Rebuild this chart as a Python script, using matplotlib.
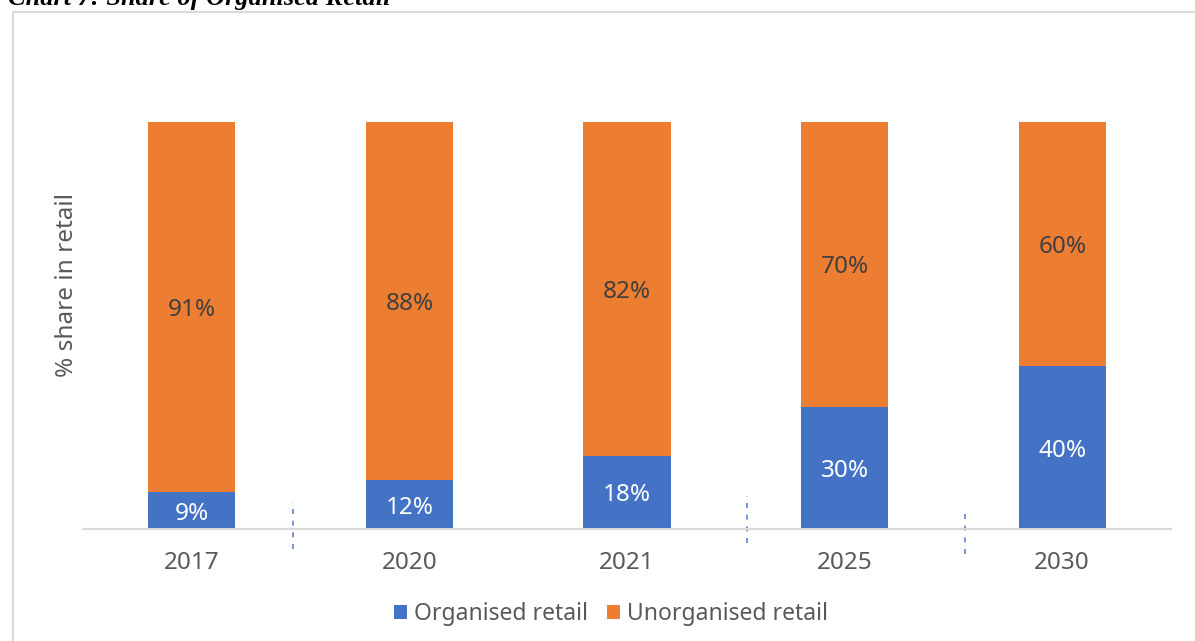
import numpy as np
import matplotlib.pyplot as plt
from matplotlib.patches import Rectangle

# Dados do gráfico
years = ['2017', '2020', '2021', '2025', '2030']
organised = [9, 12, 18, 30, 40]
unorganised = [91, 88, 82, 70, 60]

blue = '#4472C4'
orange = '#ED7D31'

plt.rcParams['font.family'] = ['Noto Sans', 'DejaVu Sans']

fig = plt.figure(figsize=(11.95, 6.41), dpi=100)
ax = fig.add_axes([83/1195, 1 - 529/641, (1171 - 83)/1195, (529 - 122)/641])

x = np.arange(len(years))
ax.bar(x, organised, width=0.4, color=blue, label='Organised retail')
ax.bar(x, unorganised, width=0.4, bottom=organised, color=orange,
       label='Unorganised retail')

# rótulos no centro de cada segmento
for xi, o, u in zip(x, organised, unorganised):
    ax.annotate(f'{o}%', (xi, o / 2), xytext=(0, -3), textcoords='offset pixels',
                ha='center', va='center', color='white', fontsize=17.5)
    ax.annotate(f'{u}%', (xi, o + u / 2), xytext=(0, -3), textcoords='offset pixels',
                ha='center', va='center', color='#404040', fontsize=17.5)

ax.set_xlim(-0.5, len(years) - 0.5)
ax.set_ylim(0, 100)
ax.set_xticks(x)
ax.set_xticklabels(years)
ax.tick_params(axis='x', length=0, pad=16, labelsize=17.5, labelcolor='#595959')
ax.set_yticks([])
for s in ['left', 'right', 'top']:
    ax.spines[s].set_visible(False)
ax.spines['bottom'].set_color('#D9D9D9')
ax.spines['bottom'].set_linewidth(1.5)

ax.set_ylabel('% share in retail', fontsize=17.5, color='#595959', labelpad=0)
ax.yaxis.set_label_coords((79 - 83)/1088, (529 - 285)/407)

# linhas tracejadas soltas entre as categorias
for xd, y0, y1 in [(0.465, -4.9, 6.6), (2.551, -3.4, 8.1), (3.553, -6.1, 5.2)]:
    ax.plot([xd, xd], [y0, y1], color='#5B82CF', linestyle='--', linewidth=1.2,
            dashes=(3, 4), clip_on=False)

fig.legend(loc='center', bbox_to_anchor=(611/1195, 1 - 614/641), ncol=2,
           frameon=False, fontsize=16.5, labelcolor='#595959',
           handlelength=0.6, handleheight=0.6, handletextpad=0.3,
           columnspacing=0.8)

# moldura cinza da área do gráfico
fig.patches.append(Rectangle((13/1195, -0.1), 1.2, 1 - 12/641 + 0.1,
                             transform=fig.transFigure, fill=False,
                             edgecolor='#D9D9D9', linewidth=1.5))

fig.text(8/1195, 1 - 5/641, 'Chart 7: Share of Organised Retail',
         family='Liberation Serif', fontweight='bold', style='italic',
         fontsize=19, va='baseline', ha='left')

fig.savefig('out.png', dpi=100)
